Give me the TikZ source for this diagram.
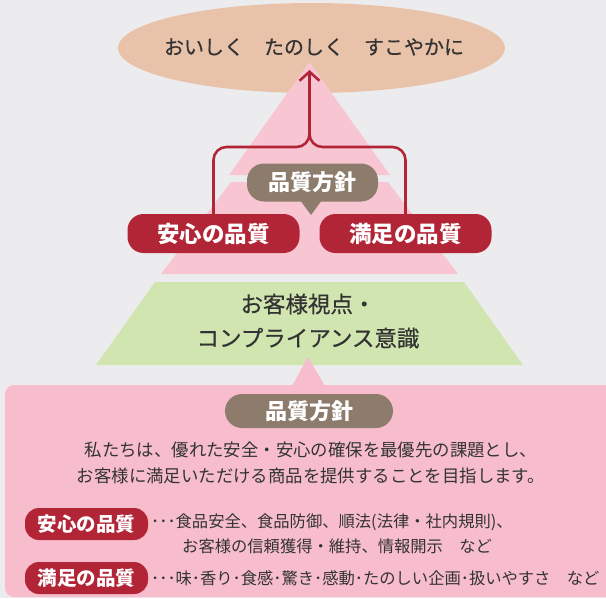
\documentclass[tikz,border=0pt]{standalone}
\usepackage{fontspec}
\newfontfamily\jp{Noto Sans CJK JP}
\newfontfamily\jpm[FakeBold=0.5]{Noto Sans CJK JP}
\usetikzlibrary{arrows.meta,shapes.geometric}
\definecolor{bg}{HTML}{ECECEE}
\definecolor{peach}{HTML}{E9C3A9}
\definecolor{pinkp}{HTML}{F8C6D3}
\definecolor{pinkbox}{HTML}{F7BDCD}
\definecolor{greenp}{HTML}{D1E5B0}
\definecolor{brownc}{HTML}{8D7B6C}
\definecolor{crim}{HTML}{B12536}
\definecolor{txt}{HTML}{333333}
\tikzset{
  redpill/.style={fill=crim, text=white, rounded corners=16pt, minimum width=172pt, minimum height=39pt, inner sep=0pt, font=\jp\fontsize{22.5}{26}\selectfont\bfseries},
  smallpill/.style={fill=crim, text=white, rounded corners=14pt, minimum width=123pt, minimum height=32pt, inner sep=0pt, font=\jp\fontsize{19.5}{22}\selectfont\bfseries},
  brownpill/.style={fill=brownc, text=white, inner sep=0pt, font=\jp\fontsize{22}{26}\selectfont\bfseries},
  darktext/.style={text=txt, inner sep=0pt, align=center},
  bodytext/.style={text=txt, inner sep=0pt, anchor=west, font=\jp\fontsize{16.3}{20}\selectfont},
  bracket/.style={draw=crim, line width=2.6pt, rounded corners=13pt},
}
\begin{document}
\begin{tikzpicture}[x=1pt,y=-1pt]
\useasboundingbox (0,0) rectangle (606,598);
\fill[bg] (0,0) rectangle (606,598);
% ellipse
\fill[peach] (311.5,48) ellipse [x radius=193.5pt, y radius=45pt];
\node[darktext, font=\jpm\fontsize{20}{24}\selectfont] (goal) at (314,47) {おいしく　たのしく　すこやかに};
% pyramid
\fill[pinkp] (309.5,62) -- (390,175) -- (229,175) -- cycle;
\fill[pinkp] (231,182) -- (388,182) -- (458,274) -- (161,274) -- cycle;
\fill[greenp] (155,282) -- (464,282) -- (523,365) -- (96,365) -- cycle;
\node[darktext, font=\jpm\fontsize{22.5}{34}\selectfont] (base) at (308,321) {お客様視点・\\コンプライアンス意識};
% bottom box
\fill[pinkbox] (308,357) -- (325,386) -- (292,386) -- cycle;
\fill[pinkbox, rounded corners=9pt] (5,385) rectangle (616,597);
% bracket
\coordinate (tip) at (309.5,70);
\node[redpill] (anshin) at (213.5,233.5) {安心の品質};
\node[redpill] (manzoku) at (405.5,233.5) {満足の品質};
\draw[bracket] (anshin.north) |- (309.5,147) -- (309.5,100);
\draw[bracket] (manzoku.north) |- (309.5,147) -- (309.5,100);
\draw[draw=crim, line width=2.6pt, -{Straight Barb[length=9pt,width=20pt]}] (309.5,110) -- (tip);
% callout
\fill[brownc] (300,200) -- (322,200) -- (311,215) -- cycle;
\node[brownpill, rounded corners=17pt, minimum width=131pt, minimum height=38pt] (policy) at (312.5,182.5) {品質方針};
% bottom content
\node[brownpill, rounded corners=17pt, minimum width=168pt, minimum height=34pt] (policy2) at (309,411) {品質方針};
\node[darktext, font=\jp\fontsize{17.4}{26}\selectfont] (body) at (311,463) {私たちは、優れた安全・安心の確保を最優先の課題とし、\\お客様に満足いただける商品を提供することを目指します。};
\node[smallpill] (s1) at (86.5,524) {安心の品質};
\node[smallpill] (s2) at (86.5,578) {満足の品質};
\node[bodytext] (t1) at (151,522) {･･･食品安全、食品防御、順法(法律・社内規則)、};
\node[bodytext] (t2) at (182,546) {お客様の信頼獲得・維持、情報開示　など};
\node[bodytext] (t3) at (151,578) {･･･味･香り･食感･驚き･感動･たのしい企画･扱いやすさ　など};
\end{tikzpicture}
\end{document}
